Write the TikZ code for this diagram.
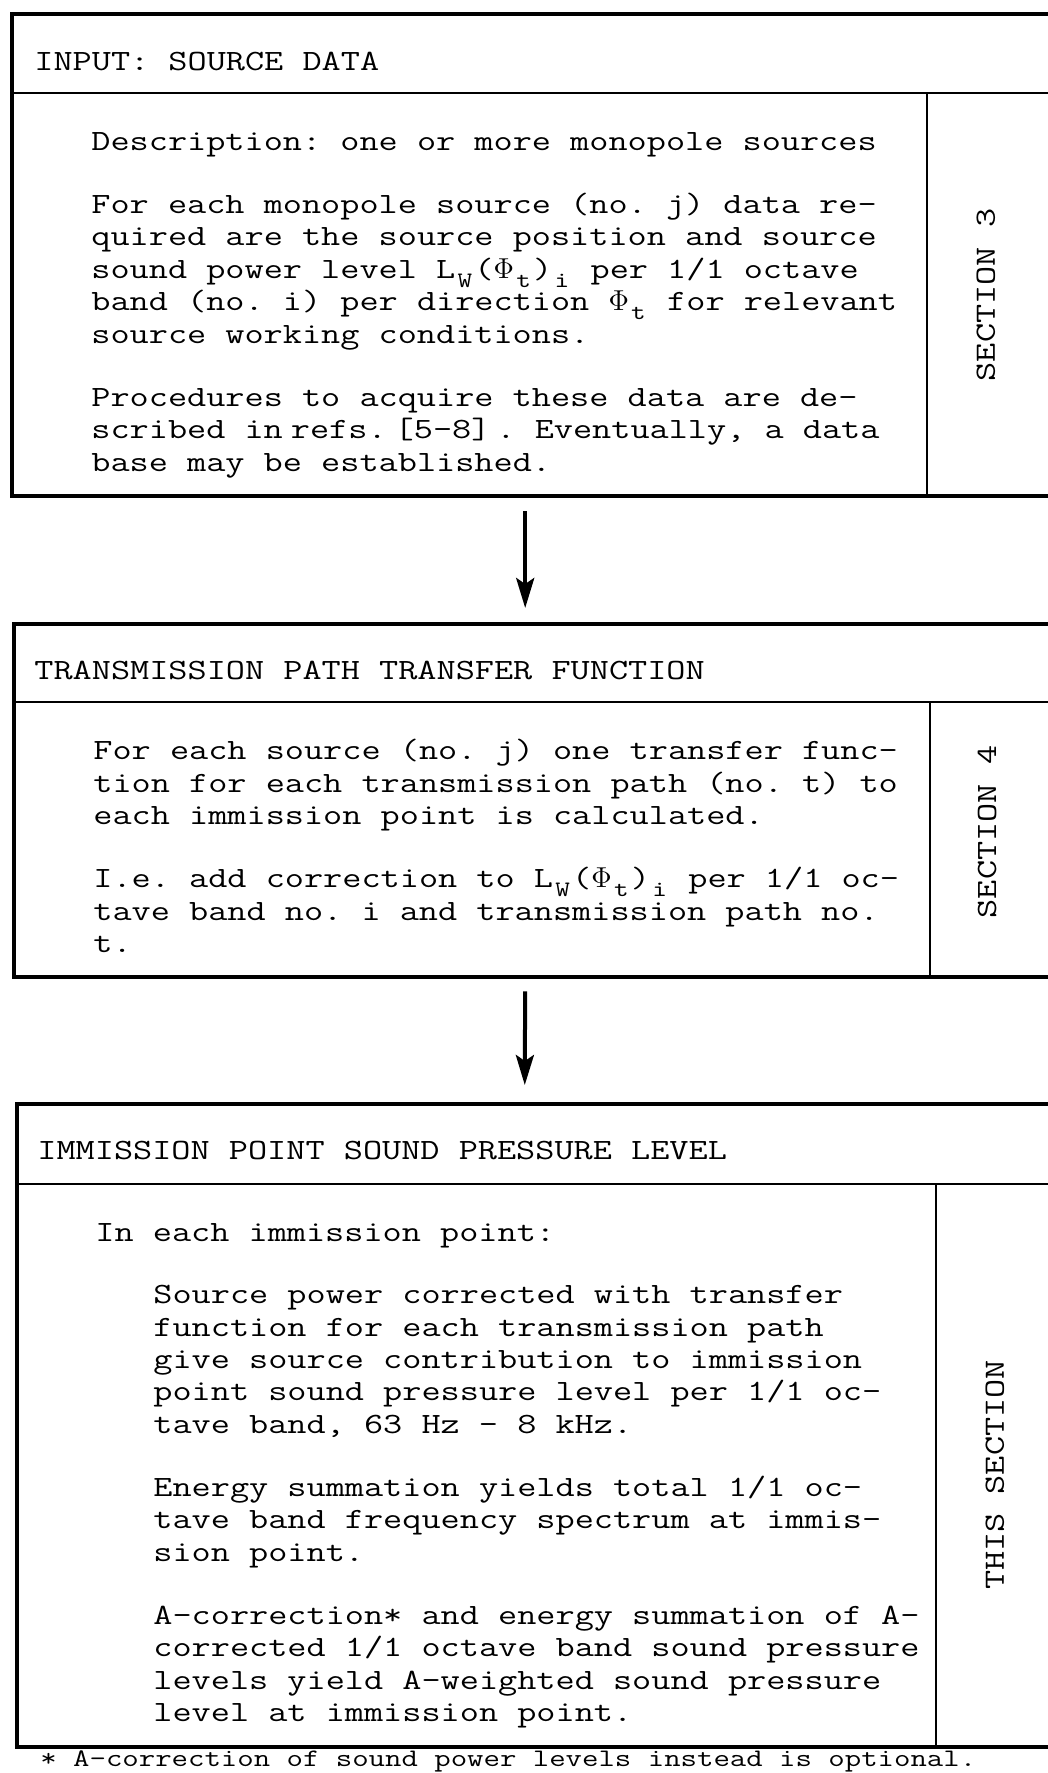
\documentclass[tikz,border=0pt]{standalone}
\usepackage{fontspec}
\newfontfamily\typer[FakeStretch=1.265]{Latin Modern Mono}
\usetikzlibrary{positioning, arrows.meta}

% index typed half a line lower, one cell wide
\newcommand{\lowidx}[1]{\setbox0\hbox{x}\raisebox{-0.3em}[0pt][0pt]{\hbox to \wd0{\hss\fontsize{11pt}{12pt}\selectfont#1\hss}}}
\newcommand{\typedgap}{\\[15.4pt]}

\begin{document}
\begin{tikzpicture}[
		x=0.5pt, y=-0.5pt,
		>={Stealth[length=15pt, width=9pt, inset=3pt]},
		every node/.style={font=\typer\fontsize{14.7pt}{16.2pt}\selectfont\frenchspacing, inner sep=0pt},
		framebox/.style={draw, line width=2.2pt, anchor=north west},
		rule/.style={line width=1.3pt},
		bodytext/.style={align=left, anchor=north west},
		sectlabel/.style={rotate=90},
		flow/.style={->, line width=2pt},
		]
		\useasboundingbox (0,0) rectangle (1048,1773);
		\clip (0,0) rectangle (1048,1773);
		
		% Input box
		\node[framebox, minimum width=520pt, minimum height=241pt] (srcbox) at (10,12) {};
		\draw[rule] (10,93) -- (1050,93);
		\draw[rule] (927,93) -- (927,494);
		\node[anchor=west] (srchd) at (34,61) {INPUT: SOURCE DATA};
		\node[bodytext] (srctext) at (91,132) {Description: one or more monopole sources\typedgap
			For each monopole source (no. j) data re-\\
			quired are the source position and source\\
			sound power level L\lowidx{W}($\Phi$\lowidx{t})\lowidx{i} per 1/1 octave\\
			band (no. i) per direction $\Phi$\lowidx{t} for relevant\\
			source working conditions.\typedgap
			Procedures to acquire these data are de-\\
			scribed in\hspace{4pt}refs.\hspace{4pt}[5-8]\hspace{3pt}. Eventually, a data\\
			base may be established.};
		\node[sectlabel] (srcsec) at (986,295) {SECTION 3};
		
		% Transmission box
		\node[framebox, minimum width=519pt, minimum height=176.5pt] (pathbox) at (12,622) {};
		\draw[rule] (12,702) -- (1050,702);
		\draw[rule] (930,702) -- (930,975);
		\node[anchor=west] (pathhd) at (34,670) {TRANSMISSION PATH TRANSFER FUNCTION};
		\node[bodytext] (pathtext) at (93,739) {For each source (no. j) one transfer func-\\
			tion for each transmission path (no. t) to\\
			each immission point is calculated.\typedgap
			I.e. add correction to L\lowidx{W}($\Phi$\lowidx{t})\lowidx{i} per 1/1 oc-\\
			tave band no. i and transmission path no.\\
			t.};
		\node[sectlabel] (pathsec) at (987,832) {SECTION 4};
		
		% Immission box
		\node[framebox, minimum width=517.5pt, minimum height=321.5pt] (immbox) at (15,1102) {};
		\draw[rule] (15,1184) -- (1050,1184);
		\draw[rule] (936,1184) -- (936,1745);
		\node[anchor=west] (immhd) at (37,1151) {IMMISSION POINT SOUND PRESSURE LEVEL};
		\node[bodytext] (immintro) at (95,1223) {In each immission point:};
		\node[bodytext] (immtext) at (153,1285) {Source power corrected with transfer\\
			function for each transmission path\\
			give source contribution to immission\\
			point sound pressure level per 1/1 oc-\\
			tave band, 63 Hz - 8 kHz.\typedgap
			Energy summation yields total 1/1 oc-\\
			tave band frequency spectrum at immis-\\
			sion point.\typedgap
			A-correction* and energy summation of A-\\
			corrected 1/1 octave band sound pressure\\
			levels yield A-weighted sound pressure\\
			level at immission point.};
		\node[sectlabel] (immsec) at (995,1475) {THIS SECTION};
		
		% Footnote
		\node[anchor=base west, font=\typer\fontsize{12.6pt}{14pt}\selectfont] (fnote) at (40,1766) {* A-correction of sound power levels instead is optional.};
		
		% Arrows between boxes
		\draw[flow, shorten <=6.5pt, shorten >=7pt] ([xshift=-3.5pt]srcbox.south) -- ([xshift=-4pt]pathbox.north);
		\draw[flow, shorten <=6pt, shorten >=8.5pt] ([xshift=-4pt]pathbox.south) -- ([xshift=-5pt]immbox.north);
		
	\end{tikzpicture}
\end{document}
